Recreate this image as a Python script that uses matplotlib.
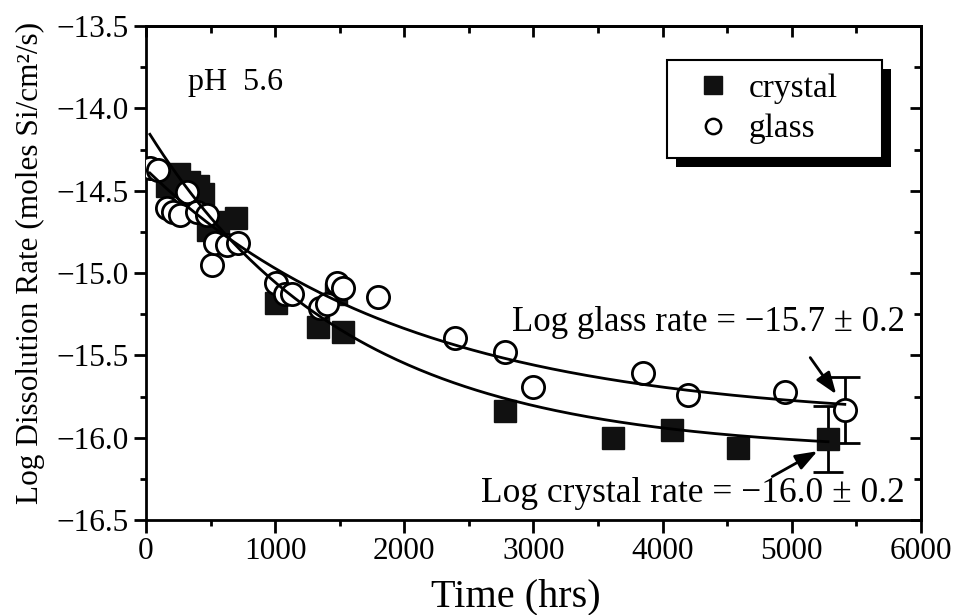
import numpy as np
import matplotlib
matplotlib.use("Agg")
import matplotlib.pyplot as plt
from matplotlib.patches import Rectangle
from matplotlib.ticker import MultipleLocator, FuncFormatter

plt.rcParams['font.family'] = ['Liberation Serif', 'DejaVu Serif']

# crystal data (filled squares)
crystal_t = [165, 255, 330, 400, 445, 480, 560, 700, 1010, 1330, 1470, 1525,
             2780, 3615, 4070, 4580, 5280]
crystal_r = [-14.47, -14.40, -14.45, -14.47, -14.52, -14.74, -14.69, -14.665,
             -15.18, -15.33, -15.13, -15.36, -15.84, -16.00, -15.955, -16.06, -16.01]

# glass data (open circles)
glass_t = [30, 95, 165, 210, 265, 315, 395, 470, 510, 535, 625, 710, 1010, 1075,
           1130, 1345, 1400, 1480, 1525, 1795, 2390, 2780, 2995, 3845, 4195, 4945, 5410]
glass_r = [-14.36, -14.375, -14.605, -14.63, -14.65, -14.51, -14.63, -14.65, -14.95,
           -14.82, -14.83, -14.82, -15.06, -15.13, -15.13, -15.21, -15.19, -15.06,
           -15.09, -15.145, -15.395, -15.48, -15.69, -15.61, -15.74, -15.72, -15.83]

# final rates with uncertainty
crystal_final = (5280, -16.01, 0.2)
glass_final = (5410, -15.83, 0.2)

# exponential fits: rate = a + b*exp(-t/tau)
crystal_fit = (-16.09, 1.97, 1550, 30, 5280)
glass_fit = (-15.90, 1.53, 2000, 30, 5410)

fig = plt.figure(figsize=(9.54, 6.15), dpi=100)
ax = fig.add_axes([146/954, 1 - 520/615, 775/954, 494/615])

for a, b, tau, t0, t1 in (crystal_fit, glass_fit):
    t = np.linspace(t0, t1, 300)
    ax.plot(t, a + b*np.exp(-t/tau), color='black', lw=2, zorder=6)

ax.plot(crystal_t, crystal_r, 's', ms=16, color='#111111', mec='#111111', zorder=3)
ax.plot(glass_t, glass_r, 'o', ms=16, mfc='white', mec='black', mew=2, zorder=4)

for x, y, e in (crystal_final, glass_final):
    ax.errorbar([x], [y], yerr=[e], fmt='none', ecolor='black', elinewidth=2,
                capsize=11, capthick=2, zorder=2)

# legend handles
hc, = ax.plot([], [], 's', ms=13, color='#111111', label='crystal')
hg, = ax.plot([], [], 'o', ms=11, mfc='white', mec='black', mew=1.8, label='glass')

ax.set_xlim(0, 6000)
ax.set_ylim(-16.5, -13.5)
ax.xaxis.set_major_locator(MultipleLocator(1000))
ax.xaxis.set_minor_locator(MultipleLocator(500))
ax.yaxis.set_major_locator(MultipleLocator(0.5))
ax.yaxis.set_minor_locator(MultipleLocator(0.25))
ax.yaxis.set_major_formatter(FuncFormatter(lambda v, p: f'{v:.1f}'.replace('-', '\u2212')))
ax.tick_params(which='both', direction='out', width=2, labelsize=22.5)
ax.tick_params(which='major', length=9)
ax.tick_params(which='minor', length=4)
for s in ax.spines.values():
    s.set_linewidth(2)

top = ax.secondary_xaxis('top')
top.xaxis.set_major_locator(MultipleLocator(1000))
top.xaxis.set_minor_locator(MultipleLocator(500))
top.tick_params(which='both', direction='in', width=2, labeltop=False)
top.tick_params(which='major', length=8)
top.tick_params(which='minor', length=5)
right = ax.secondary_yaxis('right')
right.yaxis.set_major_locator(MultipleLocator(0.5))
right.yaxis.set_minor_locator(MultipleLocator(0.25))
right.tick_params(which='both', direction='in', width=2, labelright=False)
right.tick_params(which='major', length=8)
right.tick_params(which='minor', length=5)
top.spines['top'].set_linewidth(2)
right.spines['right'].set_linewidth(2)

ax.set_xlabel('Time (hrs)', fontsize=29)
ax.xaxis.set_label_coords(0.477, -0.118)
ax.set_ylabel('Log Dissolution Rate (moles Si/cm²/s)', fontsize=22.5)
ax.yaxis.set_label_coords(-0.13, 0.52)

ax.text(325, -13.889, 'pH  5.6', fontsize=23, va='baseline')
ax.text(5875, -15.30, 'Log glass rate = \u221215.7 \u00b1 0.2', fontsize=25,
        ha='right', va='center')
ax.text(5875, -16.34, 'Log crystal rate = \u221216.0 \u00b1 0.2', fontsize=25.5,
        ha='right', va='center')
arrow = dict(arrowstyle='-|>,head_length=0.6,head_width=0.22', lw=2,
             color='black', mutation_scale=22)
ax.annotate('', xy=(5356, -15.75), xytext=(5130, -15.50), arrowprops=arrow)
ax.annotate('', xy=(5217, -16.074), xytext=(4830, -16.244), arrowprops=arrow)

leg_h = 97 / 494
leg = ax.legend(handles=[hc, hg], loc='upper left', mode='expand',
                bbox_to_anchor=(0.672, 0.931 - leg_h, 215 / 775, leg_h),
                fontsize=24, frameon=True, fancybox=False, framealpha=1,
                edgecolor='black', handletextpad=0.05, borderpad=0.4,
                labelspacing=0.3, handlelength=2.0, borderaxespad=0)
leg.get_frame().set_linewidth(1.5)
leg.set_zorder(8)

fig.canvas.draw()
bb = leg.get_window_extent().transformed(fig.transFigure.inverted())
ax.add_patch(Rectangle((bb.x0 + 9/954, bb.y0 - 9/615), bb.width, bb.height,
                       transform=fig.transFigure, facecolor='black', edgecolor='none',
                       zorder=7.5, clip_on=False))

fig.savefig('out.png', dpi=100)
